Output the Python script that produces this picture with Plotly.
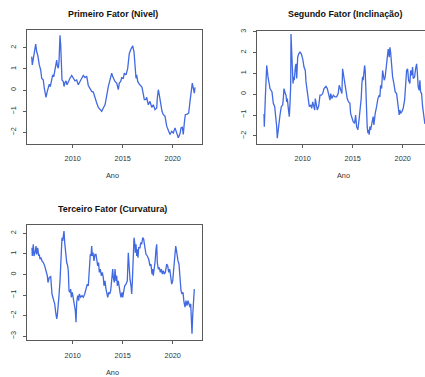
import plotly.graph_objects as go

# ---- Data (decimal years, factor values) ----
anos_nivel = [2005.90, 2005.96, 2006.06, 2006.20, 2006.30, 2006.40, 2006.50, 2006.66, 2006.80, 2006.90,
              2007.06, 2007.16, 2007.33, 2007.46, 2007.56, 2007.66, 2007.76, 2007.90, 2008.00, 2008.10,
              2008.20, 2008.30, 2008.40, 2008.46, 2008.56, 2008.63, 2008.73, 2008.80, 2008.86, 2008.93,
              2009.06, 2009.13, 2009.23, 2009.33, 2009.43, 2009.56, 2009.73, 2009.90, 2010.06, 2010.23,
              2010.40, 2010.56, 2010.73, 2010.90, 2011.06, 2011.23, 2011.40, 2011.56, 2011.73, 2011.90,
              2012.06, 2012.23, 2012.40, 2012.56, 2012.73, 2012.90, 2013.06, 2013.23, 2013.33, 2013.46,
              2013.56, 2013.73, 2013.90, 2014.00, 2014.13, 2014.23, 2014.40, 2014.56, 2014.66, 2014.80,
              2014.90, 2015.06, 2015.16, 2015.33, 2015.50, 2015.66, 2015.83, 2016.00, 2016.13, 2016.23,
              2016.33, 2016.40, 2016.50, 2016.66, 2016.80, 2016.93, 2017.06, 2017.16, 2017.30, 2017.40,
              2017.56, 2017.73, 2017.90, 2018.06, 2018.23, 2018.40, 2018.46, 2018.56, 2018.66, 2018.80,
              2018.93, 2019.06, 2019.23, 2019.40, 2019.56, 2019.73, 2019.90, 2020.06, 2020.23, 2020.40,
              2020.56, 2020.73, 2020.83, 2020.96, 2021.06, 2021.16, 2021.26, 2021.46, 2021.60, 2021.73,
              2021.86, 2021.96, 2022.06, 2022.16, 2022.23]
nivel = [1.58, 1.19, 1.47, 1.81, 2.17, 1.81, 1.66, 1.19, 0.95, 0.56,
         0.48, 0.09, -0.34, -0.06, 0.13, 0.28, 0.16, 0.48, 0.72, 0.63,
         0.88, 1.06, 1.42, 1.16, 1.03, 1.34, 2.59, 2.13, 1.03, 0.48,
         0.41, 0.17, 0.36, 0.44, 0.25, 0.41, 0.56, 0.69, 0.56, 0.44,
         0.48, 0.25, 0.41, 0.59, 0.69, 0.59, 0.66, 0.22, 0.06, -0.06,
         -0.09, -0.38, -0.61, -0.81, -0.92, -1.00, -0.84, -0.69, -0.45, -0.06,
         0.17, 0.48, 0.80, 0.64, 0.48, 0.41, 0.33, 0.02, 0.33, 0.41,
         0.59, 0.56, 0.80, 0.72, 1.03, 1.73, 1.94, 2.09, 1.81, 1.34,
         0.56, 0.72, 0.41, 0.28, 0.17, 0.13, -0.19, -0.45, -0.45, -0.34,
         -0.69, -0.53, -0.81, -0.69, -0.92, -0.84, -0.38, 0.02, -0.22, -0.69,
         -1.00, -1.16, -1.23, -1.70, -1.86, -2.09, -1.94, -2.02, -1.78, -2.02,
         -2.25, -2.06, -1.78, -1.75, -2.09, -1.55, -1.16, -1.13, -1.08, -0.53,
         -0.14, 0.33, 0.09, -0.14, 0.13]

anos_inclinacao = [2006.13, 2006.16, 2006.26, 2006.33, 2006.40, 2006.53, 2006.73, 2006.93, 2007.06, 2007.20,
                   2007.33, 2007.40, 2007.46, 2007.60, 2007.73, 2007.86, 2008.00, 2008.06, 2008.13, 2008.26,
                   2008.33, 2008.40, 2008.46, 2008.56, 2008.66, 2008.73, 2008.80, 2008.83, 2008.90, 2008.96,
                   2009.03, 2009.10, 2009.16, 2009.26, 2009.33, 2009.40, 2009.50, 2009.60, 2009.73, 2009.86,
                   2010.00, 2010.13, 2010.26, 2010.33, 2010.46, 2010.56, 2010.66, 2010.80, 2010.90, 2011.00,
                   2011.10, 2011.20, 2011.26, 2011.36, 2011.46, 2011.60, 2011.73, 2011.86, 2012.00, 2012.13,
                   2012.33, 2012.46, 2012.60, 2012.73, 2012.80, 2012.93, 2013.06, 2013.23, 2013.39, 2013.55,
                   2013.65, 2013.79, 2013.92, 2013.99, 2014.12, 2014.19, 2014.32, 2014.45, 2014.59, 2014.72,
                   2014.79, 2014.92, 2015.05, 2015.19, 2015.29, 2015.39, 2015.52, 2015.65, 2015.79, 2015.85,
                   2015.92, 2015.99, 2016.05, 2016.12, 2016.19, 2016.25, 2016.32, 2016.39, 2016.45, 2016.52,
                   2016.59, 2016.65, 2016.72, 2016.79, 2016.92, 2017.05, 2017.12, 2017.19, 2017.25, 2017.39,
                   2017.52, 2017.65, 2017.72, 2017.79, 2017.89, 2017.99, 2018.05, 2018.15, 2018.25, 2018.39,
                   2018.49, 2018.55, 2018.65, 2018.72, 2018.79, 2018.85, 2018.99, 2019.12, 2019.25, 2019.39,
                   2019.49, 2019.59, 2019.65, 2019.72, 2019.79, 2019.92, 2020.05, 2020.19, 2020.32, 2020.39,
                   2020.49, 2020.59, 2020.72, 2020.79, 2020.89, 2020.99, 2021.05, 2021.19, 2021.29, 2021.39,
                   2021.45, 2021.55, 2021.65, 2021.72, 2021.79, 2021.89, 2021.99, 2022.09, 2022.15, 2022.22]
inclinacao = [-0.95, -1.56, -0.21, 0.35, 1.38, 0.83, 0.27, 0.11, -0.44, -0.60,
              -1.16, -1.56, -2.11, -1.40, -1.00, -0.60, -0.52, -0.21, 0.27, 0.03,
              -0.05, -0.37, -0.21, -0.68, -1.08, -0.44, 0.43, 2.89, 2.25, 1.46,
              0.51, 0.83, 0.67, 1.30, 1.46, 0.75, 1.78, 1.94, 2.02, 1.94,
              1.70, 1.30, 1.14, 0.59, 0.03, -0.21, -0.60, -0.52, -0.68, -0.37,
              -0.60, -0.76, -0.21, -0.60, -0.76, -0.57, -0.05, -0.05, 0.03, 0.27,
              0.38, 0.27, -0.13, -0.29, 0.03, -0.21, -0.05, -0.13, -0.13, 0.03,
              0.43, 0.27, 0.03, 1.22, 0.83, 0.51, 0.03, -0.21, -0.37, -0.44,
              -0.92, -1.16, -1.32, -1.40, -1.00, -1.56, -1.71, -1.16, -0.60, -0.21,
              0.51, 0.83, 0.67, 1.30, 1.38, 1.14, 0.03, -0.76, -1.56, -1.87,
              -1.71, -1.95, -1.56, -1.71, -1.40, -1.08, -1.48, -1.08, -0.92, -0.60,
              -0.21, -0.05, -0.13, 0.43, 0.27, 1.14, 0.90, 0.67, 0.83, 1.62,
              1.78, 2.17, 1.78, 2.25, 2.02, 1.62, 0.83, 0.51, 0.11, 0.03,
              -0.44, -0.60, -1.00, -0.76, -0.92, -0.84, -0.68, -0.29, 0.59, 1.14,
              1.22, 0.67, 0.51, 1.14, 0.90, 1.30, 0.75, 0.83, 1.22, 1.46,
              1.14, 0.35, 0.19, 0.67, 0.11, 0.03, -0.60, -1.08, -1.40, -1.43]

anos_curvatura = [2005.93, 2005.96, 2006.06, 2006.13, 2006.23, 2006.33, 2006.40, 2006.50, 2006.60, 2006.66,
                  2006.73, 2006.83, 2006.93, 2007.06, 2007.20, 2007.33, 2007.46, 2007.53, 2007.60, 2007.66,
                  2007.80, 2007.86, 2007.93, 2008.06, 2008.20, 2008.30, 2008.40, 2008.46, 2008.53, 2008.63,
                  2008.73, 2008.80, 2008.86, 2008.93, 2009.00, 2009.06, 2009.13, 2009.20, 2009.26, 2009.33,
                  2009.40, 2009.50, 2009.56, 2009.63, 2009.73, 2009.80, 2009.86, 2009.96, 2010.06, 2010.16,
                  2010.26, 2010.33, 2010.40, 2010.50, 2010.60, 2010.66, 2010.80, 2010.93, 2011.06, 2011.20,
                  2011.33, 2011.46, 2011.56, 2011.63, 2011.70, 2011.76, 2011.83, 2011.90, 2011.96, 2012.03,
                  2012.13, 2012.23, 2012.33, 2012.40, 2012.50, 2012.59, 2012.66, 2012.76, 2012.86, 2012.96,
                  2013.06, 2013.13, 2013.23, 2013.33, 2013.40, 2013.50, 2013.60, 2013.70, 2013.80, 2013.90,
                  2014.00, 2014.06, 2014.16, 2014.23, 2014.33, 2014.40, 2014.46, 2014.56, 2014.66, 2014.76,
                  2014.83, 2014.93, 2015.00, 2015.10, 2015.20, 2015.33, 2015.46, 2015.56, 2015.63, 2015.73,
                  2015.83, 2015.90, 2015.96, 2016.06, 2016.13, 2016.20, 2016.26, 2016.33, 2016.40, 2016.46,
                  2016.53, 2016.60, 2016.73, 2016.80, 2016.90, 2017.00, 2017.10, 2017.20, 2017.33, 2017.46,
                  2017.60, 2017.73, 2017.83, 2017.93, 2018.00, 2018.06, 2018.13, 2018.23, 2018.33, 2018.40,
                  2018.46, 2018.56, 2018.66, 2018.76, 2018.86, 2018.96, 2019.06, 2019.16, 2019.26, 2019.40,
                  2019.50, 2019.60, 2019.70, 2019.80, 2019.90, 2020.00, 2020.10, 2020.20, 2020.30, 2020.36,
                  2020.43, 2020.53, 2020.63, 2020.73, 2020.83, 2020.93, 2021.03, 2021.13, 2021.23, 2021.33,
                  2021.43, 2021.53, 2021.63, 2021.73, 2021.80, 2021.86, 2021.93, 2022.00, 2022.06, 2022.13,
                  2022.16]
curvatura = [1.30, 0.90, 1.47, 0.90, 1.06, 1.38, 0.98, 1.30, 0.90, 0.98,
             0.74, 0.82, 0.66, 0.58, 0.42, 0.18, -0.06, -0.39, -0.14, -0.14,
             -0.10, -0.79, -0.95, -1.19, -1.43, -1.84, -2.16, -2.00, -1.67, -1.03,
             -0.31, 0.42, 1.22, 1.79, 1.63, 2.03, 2.11, 1.55, 1.14, 0.74,
             0.58, 0.42, 0.18, -0.79, -0.87, -0.71, -1.11, -0.87, -1.11, -1.35,
             -1.76, -2.32, -1.35, -1.03, -1.27, -0.95, -1.11, -1.03, -1.11, -0.95,
             -0.71, -0.47, -0.55, 0.10, 0.58, 0.98, 0.90, 1.38, 0.90, 1.06,
             0.66, 0.98, 0.98, 0.58, 0.42, 0.58, 0.10, 0.26, -0.06, 0.10,
             -0.14, -0.55, -0.31, -0.71, -0.95, -1.11, -0.87, -0.95, -0.79, -0.23,
             0.26, -0.14, -0.39, 0.26, -0.31, -0.06, -0.55, -0.31, -0.79, -0.95,
             -1.11, -0.87, -1.11, -0.79, -0.55, -0.47, -0.31, 1.06, 0.42, -0.23,
             -0.55, -0.95, -0.39, 1.06, 1.79, 1.55, 1.06, 1.47, 0.90, 1.22,
             0.82, 1.30, 1.30, 1.55, 1.47, 1.79, 1.71, 1.38, 0.98, 0.90,
             0.74, 0.42, 0.50, 0.02, 0.26, -0.06, 0.18, 0.58, 1.22, 1.47,
             0.58, 0.26, 0.34, 0.10, 0.26, 0.02, 0.18, 0.02, 0.10, 0.50,
             0.42, 0.10, 0.26, -0.06, -0.47, -0.31, 0.26, 0.90, 1.38, 1.22,
             0.90, 0.66, 0.50, -0.23, -0.79, -0.95, -0.87, -1.35, -1.59, -1.27,
             -1.51, -1.27, -1.51, -1.59, -1.43, -2.16, -2.88, -2.00, -1.59, -0.95,
             -0.71]

titulos = ["Primeiro Fator (Nivel)", "Segundo Fator (Inclinação)", "Terceiro Fator (Curvatura)"]
rotulo_x = "Ano"
ticks_x = [2010, 2015, 2020]
ticks_y = [[-2, -1, 0, 1, 2], [-2, -1, 0, 1, 2, 3], [-3, -2, -1, 0, 1, 2]]

# ---- Figure ----
W, H = 425, 377
LINE = "#4169E1"
AXC = "#5a5a5a"
FONT = "Liberation Sans, Arial, sans-serif"

fig = go.Figure()
series = [(anos_nivel, nivel), (anos_inclinacao, inclinacao), (anos_curvatura, curvatura)]
for i, (xs, ys) in enumerate(series):
    suf = "" if i == 0 else str(i + 1)
    fig.add_trace(go.Scatter(x=xs, y=ys, mode="lines", line=dict(color=LINE, width=1.3),
                             xaxis="x" + suf, yaxis="y" + suf, showlegend=False, hoverinfo="skip"))

def px_x(p):
    return p / W

def px_y(p):
    return 1 - p / H

boxes = [  # left, right, top, bottom in pixels
    (26.7, 201.7, 28.3, 142.3),
    (256.7, 425.0, 28.8, 142.3),
    (26.7, 201.7, 224.3, 339.7),
]
xranges = [[2005.40, 2022.90], [2005.40, 2022.23], [2005.40, 2022.90]]
yranges = [[-2.52, 2.83], [-2.37, 3.05], [-3.18, 2.40]]

layout = dict(width=W, height=H, margin=dict(l=0, r=0, t=0, b=0),
              paper_bgcolor="white", plot_bgcolor="white",
              font=dict(family=FONT, size=7.3, color="#333333"))
annotations = []
for i in range(3):
    suf = "" if i == 0 else str(i + 1)
    l, r, t, b = boxes[i]
    layout["xaxis" + suf] = dict(domain=[px_x(l), px_x(r)], range=xranges[i], anchor="y" + suf,
                                 tickvals=ticks_x, ticks="outside", ticklen=3, tickcolor=AXC,
                                 showline=True, linecolor=AXC, linewidth=1, mirror=True,
                                 showgrid=False, zeroline=False, ticklabelstandoff=5,
                                 tickfont=dict(size=7.3, color="#333333"))
    layout["yaxis" + suf] = dict(domain=[px_y(b), px_y(t)], range=yranges[i], anchor="x" + suf,
                                 tickvals=ticks_y[i], ticks="outside", ticklen=3, tickcolor=AXC,
                                 showline=True, linecolor=AXC, linewidth=1, mirror=(i != 1),
                                 showgrid=False, zeroline=False, tickangle=-90, ticklabelstandoff=4,
                                 tickfont=dict(size=7.3, color="#333333"))

title_pos = [(113.0, 12.0), (344.7, 11.7), (112.0, 208.3)]
ano_pos = [(112.7, 174.0), (343.3, 174.0), (112.7, 372.0)]
for i in range(3):
    annotations.append(dict(text="<b>" + titulos[i] + "</b>", x=px_x(title_pos[i][0]), y=px_y(title_pos[i][1]),
                            xref="paper", yref="paper", xanchor="center", yanchor="middle", showarrow=False,
                            font=dict(family=FONT, size=8.9, color="#111111")))
    annotations.append(dict(text=rotulo_x, x=px_x(ano_pos[i][0]), y=px_y(ano_pos[i][1]),
                            xref="paper", yref="paper", xanchor="center", yanchor="middle", showarrow=False,
                            font=dict(family=FONT, size=7.3, color="#333333")))
layout["annotations"] = annotations
fig.update_layout(**layout)
fig.write_html("out.html")
